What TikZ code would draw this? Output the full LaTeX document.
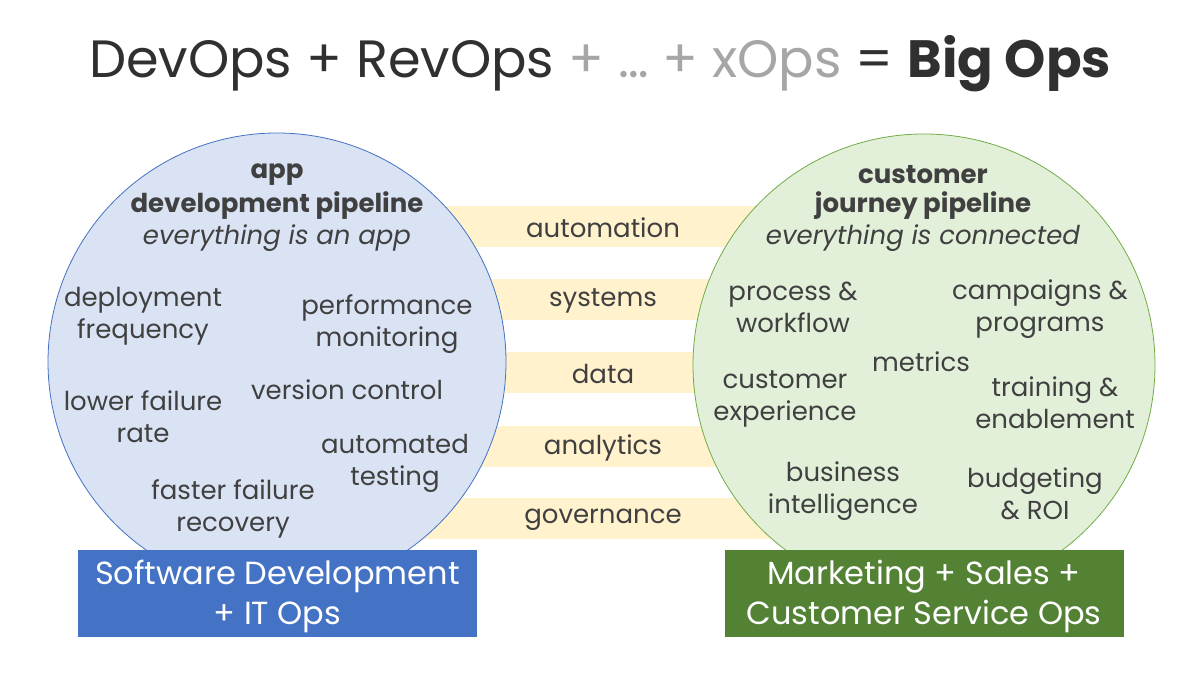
\documentclass[tikz,border=0pt]{standalone}
\usepackage{fontspec}
\setmainfont{Poppins}
\definecolor{txt}{HTML}{404040}
\definecolor{ttl}{HTML}{303030}
\definecolor{grey}{HTML}{A6A6A6}
\definecolor{stripeY}{HTML}{FFF2CC}
\definecolor{devfill}{HTML}{DAE3F3}
\definecolor{devline}{HTML}{4472C4}
\definecolor{revfill}{HTML}{E2F0D9}
\definecolor{revline}{HTML}{70AD47}
\definecolor{devbox}{HTML}{4472C4}
\definecolor{revbox}{HTML}{548235}
\begin{document}
\begin{tikzpicture}[x=1pt,y=-1pt,
  stripe/.style={fill=stripeY, draw=none, minimum width=446pt, minimum height=41pt, inner sep=0pt},
  lbl/.style={font=\fontsize{26}{32}\selectfont, text=txt, align=center, inner sep=0pt, yshift=-2pt},
  head/.style={lbl, font=\bfseries\fontsize{26}{32}\selectfont},
  tag/.style={lbl, font=\itshape\fontsize{26}{32}\selectfont},
  pipe/.style={circle, inner sep=0pt, line width=0.8pt},
  opsbox/.style={minimum width=399pt, minimum height=87pt, inner sep=0pt, text=white, align=center, font=\fontsize{32}{40}\selectfont}]
\useasboundingbox[fill=white] (0,0) rectangle (1200,690);

% stripes (behind circles)
\node[stripe] (s1) at (603,226) {};
\node[stripe] (s2) at (603,299) {};
\node[stripe] (s3) at (603,372) {};
\node[stripe] (s4) at (603,446) {};
\node[stripe] (s5) at (603,518) {};

% circles
\node[pipe, minimum size=458pt, fill=devfill, draw=devline] (devc) at (277,362) {};
\node[pipe, minimum size=462pt, fill=revfill, draw=revline] (revc) at (924,365) {};

% stripe labels
\node[lbl] (l1) at (s1) {automation};
\node[lbl] (l2) at (s2) {systems};
\node[lbl] (l3) at (s3) {data};
\node[lbl] (l4) at (s4) {analytics};
\node[lbl] (l5) at (s5) {governance};

% left circle texts
\node[head] (d1) at (277,173) {app};
\node[head] (d2) at (277,204) {development pipeline};
\node[tag]  (d3) at (277,236) {everything is an app};
\node[lbl] (dep) at (143,314) {deployment\\frequency};
\node[lbl] (perf) at (387,322) {performance\\monitoring};
\node[lbl] (ver) at (347,388) {version control};
\node[lbl] (low) at (143,415) {lower failure\\rate};
\node[lbl] (aut) at (395,461) {automated\\testing};
\node[lbl] (fas) at (233,507) {faster failure\\recovery};

% right circle texts
\node[head] (r1) at (923,173) {customer};
\node[head] (r2) at (923,204) {journey pipeline};
\node[tag]  (r3) at (923,236) {everything is connected};
\node[lbl] (pro) at (793,305) {process \&\\workflow};
\node[lbl] (cam) at (1040,307) {campaigns \&\\programs};
\node[lbl] (met) at (921,360) {metrics};
\node[lbl] (cus) at (785,397) {customer\\experience};
\node[lbl] (tra) at (1055,401) {training \&\\enablement};
\node[lbl] (bus) at (843,489) {business\\intelligence};
\node[lbl] (bud) at (1035,492) {budgeting\\\& ROI};

% bottom boxes
\node[opsbox, fill=devbox] (devb) at (277.5,593.5) {};
\node[opsbox, fill=revbox] (revb) at (924,593.5) {};
\node[opsbox, minimum width=0pt, minimum height=0pt] (devt) at (277.5,596) {Software Development\\+ IT Ops};
\node[opsbox, minimum width=0pt, minimum height=0pt] (revt) at (924,596) {Marketing + Sales +\\Customer Service Ops};

% title
\node[anchor=base, inner sep=0pt, font=\fontsize{52.5}{60}\selectfont, text=ttl] (title) at (600,78)
  {DevOps + RevOps {\color{grey}+ … + xOps} = \textbf{Big Ops}};
\end{tikzpicture}
\end{document}
